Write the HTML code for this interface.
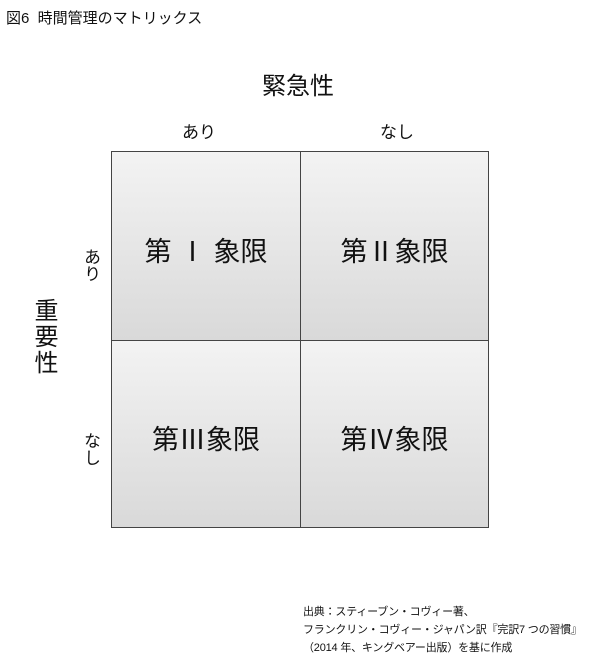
<!DOCTYPE html>
<html><head><meta charset="utf-8"><style>
body{margin:0;width:600px;height:661px;background:#fff;position:relative;font-family:"Liberation Sans","Noto Sans CJK JP",sans-serif;color:#111;overflow:hidden}
.a{position:absolute;white-space:nowrap}
.cell{position:absolute;border:1px solid #444;background:linear-gradient(#f3f3f3,#d9d9d9);display:flex;align-items:center;justify-content:center;font-size:27px;box-sizing:border-box;padding-top:6px}
.v{writing-mode:vertical-rl;}
</style></head><body>
<div class="a" style="left:6px;top:7px;font-size:15px">図6&nbsp; 時間管理のマトリックス</div>
<div class="a" style="left:262px;top:66px;font-size:24px">緊急性</div>
<div class="a" style="left:182px;top:118px;font-size:17px">あり</div>
<div class="a" style="left:380px;top:118px;font-size:17px">なし</div>
<div class="a v" style="left:26px;top:298px;font-size:24px;letter-spacing:2px">重要性</div>
<div class="a v" style="left:78px;top:248px;font-size:17px">あり</div>
<div class="a v" style="left:78px;top:432px;font-size:17px">なし</div>
<div class="cell" style="left:111px;top:151px;width:190px;height:190px">第 Ⅰ 象限</div>
<div class="cell" style="left:300px;top:151px;width:189px;height:190px">第Ⅱ象限</div>
<div class="cell" style="left:111px;top:340px;width:190px;height:188px">第Ⅲ象限</div>
<div class="cell" style="left:300px;top:340px;width:189px;height:188px">第Ⅳ象限</div>
<div class="a" style="left:303px;top:603px;font-size:11px;line-height:18px;letter-spacing:-0.2px">出典：スティーブン・コヴィー著、<br>フランクリン・コヴィー・ジャパン訳『完訳7 つの習慣』<br>（2014 年、キングベアー出版）を基に作成</div>
</body></html>
